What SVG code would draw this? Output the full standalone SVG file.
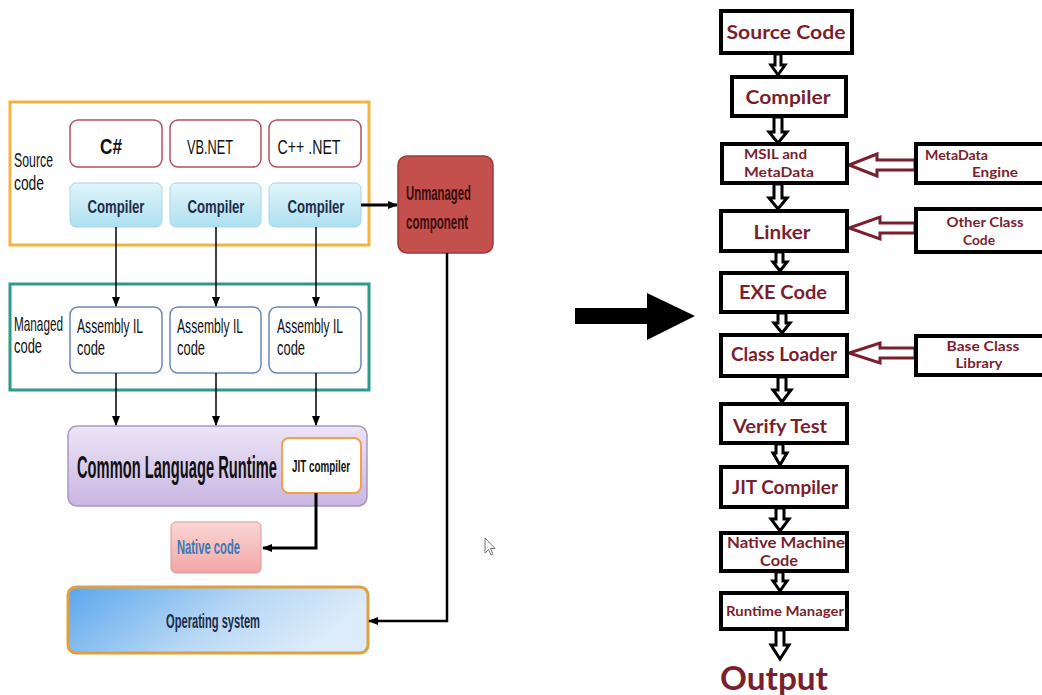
<svg xmlns="http://www.w3.org/2000/svg" width="1042" height="695" viewBox="0 0 1042 695">
<defs>
<linearGradient id="gBlue" x1="0" y1="0" x2="0" y2="1"><stop offset="0" stop-color="#e2f5fb"/><stop offset="1" stop-color="#ade0f0"/></linearGradient>
<linearGradient id="gLav" x1="0" y1="0" x2="0" y2="1"><stop offset="0" stop-color="#ece4f6"/><stop offset="1" stop-color="#c9b6e2"/></linearGradient>
<linearGradient id="gPink" x1="0" y1="0" x2="0" y2="1"><stop offset="0" stop-color="#fbd6d6"/><stop offset="1" stop-color="#f2a6a6"/></linearGradient>
<linearGradient id="gOS" x1="0" y1="0" x2="1" y2="0.3"><stop offset="0" stop-color="#5aa6ee"/><stop offset="0.6" stop-color="#b8d8f4"/><stop offset="1" stop-color="#dcecfa"/></linearGradient>
<marker id="ah" markerUnits="userSpaceOnUse" markerWidth="10" markerHeight="10" viewBox="0 0 10 10" refX="9" refY="5" orient="auto"><path d="M0,1 L10,5 L0,9 z" fill="#000"/></marker>
</defs>
<style>
.lt{font-family:"Liberation Sans",Arial,sans-serif;fill:#111}
.b{font-weight:bold}
.conn{stroke:#000;fill:none}
.rb{fill:#fff;stroke:#000;stroke-width:4}
.rt{font-family:Lato,"Open Sans",sans-serif;font-weight:bold;fill:#7b1f2e}
.va{fill:#fff;stroke:#000;stroke-width:3;stroke-linejoin:miter}
.ha{fill:#fff;stroke:#7b1f2e;stroke-width:3}
</style>
<rect width="1042" height="695" fill="#fff"/>

<!-- Left diagram -->
<g id="source-code">
<rect x="10" y="102" width="359" height="143" fill="none" stroke="#f2b441" stroke-width="3"/>
<text class="lt" x="14" y="167" font-size="20" textLength="39" lengthAdjust="spacingAndGlyphs">Source</text>
<text class="lt" x="14" y="190" font-size="20" textLength="30" lengthAdjust="spacingAndGlyphs">code</text>
</g>
<g id="csharp"><rect x="70" y="120" width="92" height="47" rx="8" fill="#fff" stroke="#b5505e" stroke-width="1.5"/><text class="lt b" x="111" y="154" font-size="22" text-anchor="middle" textLength="22" lengthAdjust="spacingAndGlyphs">C#</text></g>
<g id="vbnet"><rect x="170" y="120" width="91" height="47" rx="8" fill="#fff" stroke="#b5505e" stroke-width="1.5"/><text class="lt" x="210" y="154" font-size="21" text-anchor="middle" textLength="46" lengthAdjust="spacingAndGlyphs">VB.NET</text></g>
<g id="cppnet"><rect x="269" y="120" width="92" height="47" rx="8" fill="#fff" stroke="#b5505e" stroke-width="1.5"/><text class="lt" x="309" y="154" font-size="21" text-anchor="middle" textLength="63" lengthAdjust="spacingAndGlyphs">C++ .NET</text></g>
<g id="compiler1"><rect x="70" y="183" width="92" height="44" rx="6" fill="url(#gBlue)" stroke="#a6d6e6"/><text class="lt b" x="116" y="213" font-size="19" text-anchor="middle" textLength="57" lengthAdjust="spacingAndGlyphs" style="fill:#1c2d4a">Compiler</text></g>
<g id="compiler2"><rect x="170" y="183" width="91" height="44" rx="6" fill="url(#gBlue)" stroke="#a6d6e6"/><text class="lt b" x="216" y="213" font-size="19" text-anchor="middle" textLength="57" lengthAdjust="spacingAndGlyphs" style="fill:#1c2d4a">Compiler</text></g>
<g id="compiler3"><rect x="269" y="183" width="92" height="44" rx="6" fill="url(#gBlue)" stroke="#a6d6e6"/><text class="lt b" x="316" y="213" font-size="19" text-anchor="middle" textLength="57" lengthAdjust="spacingAndGlyphs" style="fill:#1c2d4a">Compiler</text></g>

<g id="unmanaged">
<rect x="398" y="156" width="95" height="97" rx="9" fill="#c4504d" stroke="#9c3a38" stroke-width="1.5"/>
<text class="lt b" x="406" y="200" font-size="21" textLength="65" lengthAdjust="spacingAndGlyphs" style="fill:#3a0c0c">Unmanaged</text>
<text class="lt b" x="406" y="229" font-size="21" textLength="62" lengthAdjust="spacingAndGlyphs" style="fill:#3a0c0c">component</text>
</g>

<g id="managed-code">
<rect x="10" y="284" width="359" height="106" fill="none" stroke="#2e9a8c" stroke-width="3"/>
<text class="lt" transform="translate(14,331) scale(0.588,1)" x="0" y="0" font-size="20">Managed</text>
<text class="lt" x="14" y="353" font-size="20" textLength="28" lengthAdjust="spacingAndGlyphs">code</text>
</g>
<g id="asm1"><rect x="70" y="307" width="92" height="66" rx="8" fill="#fff" stroke="#6c86b4" stroke-width="1.5"/><text class="lt" x="77" y="333" font-size="20" textLength="66" lengthAdjust="spacingAndGlyphs">Assembly IL</text><text class="lt" x="77" y="355" font-size="20" textLength="28" lengthAdjust="spacingAndGlyphs">code</text></g>
<g id="asm2"><rect x="170" y="307" width="91" height="66" rx="8" fill="#fff" stroke="#6c86b4" stroke-width="1.5"/><text class="lt" x="177" y="333" font-size="20" textLength="66" lengthAdjust="spacingAndGlyphs">Assembly IL</text><text class="lt" x="177" y="355" font-size="20" textLength="28" lengthAdjust="spacingAndGlyphs">code</text></g>
<g id="asm3"><rect x="269" y="307" width="92" height="66" rx="8" fill="#fff" stroke="#6c86b4" stroke-width="1.5"/><text class="lt" x="277" y="333" font-size="20" textLength="66" lengthAdjust="spacingAndGlyphs">Assembly IL</text><text class="lt" x="277" y="355" font-size="20" textLength="28" lengthAdjust="spacingAndGlyphs">code</text></g>

<g id="clr">
<rect x="68" y="426" width="299" height="80" rx="9" fill="url(#gLav)" stroke="#a898c0" stroke-width="1.5"/>
<text class="lt b" transform="translate(77,478) scale(0.474,1)" x="0" y="0" font-size="31">Common Language Runtime</text>
</g>
<g id="jit-left">
<rect x="282" y="438" width="79" height="55" rx="7" fill="#fff" stroke="#f0a24a" stroke-width="2"/>
<text class="lt b" transform="translate(321,472) scale(0.617,1)" x="0" y="0" font-size="16" text-anchor="middle">JIT compiler</text>
</g>
<g id="native-code">
<rect x="171" y="522" width="90" height="51" rx="5" fill="url(#gPink)" stroke="#d89a9a" stroke-width="1"/>
<text class="lt b" x="177" y="554" font-size="21" textLength="63" lengthAdjust="spacingAndGlyphs" style="fill:#3a78b4">Native code</text>
</g>
<g id="os">
<rect x="68" y="587" width="300" height="66" rx="8" fill="url(#gOS)" stroke="#e0a040" stroke-width="3"/>
<text class="lt b" x="213" y="628" font-size="20" text-anchor="middle" textLength="94" lengthAdjust="spacingAndGlyphs" style="fill:#1c2d4a">Operating system</text>
</g>

<g id="left-connectors">
<line class="conn" x1="116" y1="227" x2="116" y2="306" stroke-width="1.5" marker-end="url(#ah)"/>
<line class="conn" x1="216" y1="227" x2="216" y2="306" stroke-width="1.5" marker-end="url(#ah)"/>
<line class="conn" x1="316" y1="227" x2="316" y2="306" stroke-width="1.5" marker-end="url(#ah)"/>
<line class="conn" x1="116" y1="373" x2="116" y2="425" stroke-width="1.5" marker-end="url(#ah)"/>
<line class="conn" x1="216" y1="373" x2="216" y2="425" stroke-width="1.5" marker-end="url(#ah)"/>
<line class="conn" x1="316" y1="373" x2="316" y2="425" stroke-width="1.5" marker-end="url(#ah)"/>
<line class="conn" x1="361" y1="205" x2="397" y2="205" stroke-width="3" marker-end="url(#ah)"/>
<polyline class="conn" points="316,493 316,548 263,548" stroke-width="3" marker-end="url(#ah)"/>
<polyline class="conn" points="447,253 447,621 369,621" stroke-width="2.5" marker-end="url(#ah)"/>
</g>

<g id="cursor"><path d="M485,538 L485,553 L488.5,549.5 L491,555 L493,554 L490.5,548.5 L495,548.5 Z" fill="#fff" stroke="#777" stroke-width="1"/></g>

<g id="big-arrow"><polygon points="575,308 647,308 647,293 695,316 647,340 647,324 575,324" fill="#000"/></g>

<!-- Right flow chart -->
<g id="right-connectors">
<polygon class="va" points="775,54 781,54 781,65 785,65 778,75 771,65 775,65"/>
<polygon class="va" points="774,117 782,117 782,132 787,132 778,143 769,132 774,132"/>
<polygon class="va" points="774,184 782,184 782,198 787,198 778,209 769,198 774,198"/>
<polygon class="va" points="776,252 783,252 783,262 787,262 780,271 773,262 776,262"/>
<polygon class="va" points="778,313 786,313 786,323 790,323 782,333 774,323 778,323"/>
<polygon class="va" points="778,377 786,377 786,390 791,390 782,402 773,390 778,390"/>
<polygon class="va" points="776,444 783,444 783,453 787,453 780,465 773,453 776,453"/>
<polygon class="va" points="776,508 784,508 784,519 789,519 780,531 771,519 776,519"/>
<polygon class="va" points="776,572 783,572 783,581 787,581 780,591 773,581 776,581"/>
<polygon class="va" points="776,630 784,630 784,645 789,645 780,659 771,645 776,645"/>
<polygon class="ha" points="915,160 877,160 877,154 849,165 877,176 877,170 915,170"/>
<polygon class="ha" points="915,223 880,223 880,217 849,228 880,239 880,233 915,233"/>
<polygon class="ha" points="915,348 880,348 880,343 849,353 880,363 880,358 915,358"/>
</g>

<g id="r-source"><rect class="rb" x="721" y="11" width="131" height="42"/><text class="rt" x="786" y="39" font-size="19" text-anchor="middle" textLength="119" lengthAdjust="spacingAndGlyphs">Source Code</text></g>
<g id="r-compiler"><rect class="rb" x="732" y="77" width="114" height="39"/><text class="rt" x="788" y="104" font-size="19" text-anchor="middle" textLength="85" lengthAdjust="spacingAndGlyphs">Compiler</text></g>
<g id="r-msil"><rect class="rb" x="722" y="144" width="125" height="39"/><text class="rt" x="744" y="159" font-size="14" textLength="63" lengthAdjust="spacingAndGlyphs">MSIL and</text><text class="rt" x="744" y="177" font-size="14" textLength="70" lengthAdjust="spacingAndGlyphs">MetaData</text></g>
<g id="r-metadata-engine"><rect class="rb" x="916" y="144" width="130" height="39"/><text class="rt" x="925" y="160" font-size="13" textLength="63" lengthAdjust="spacingAndGlyphs">MetaData</text><text class="rt" x="972" y="177" font-size="13" textLength="46" lengthAdjust="spacingAndGlyphs">Engine</text></g>
<g id="r-linker"><rect class="rb" x="721" y="211" width="126" height="40"/><text class="rt" x="782" y="239" font-size="19" text-anchor="middle" textLength="57" lengthAdjust="spacingAndGlyphs">Linker</text></g>
<g id="r-other-class"><rect class="rb" x="916" y="209" width="130" height="43"/><text class="rt" x="985" y="227" font-size="14" text-anchor="middle" textLength="77" lengthAdjust="spacingAndGlyphs">Other Class</text><text class="rt" x="979" y="245" font-size="14" text-anchor="middle" textLength="32" lengthAdjust="spacingAndGlyphs">Code</text></g>
<g id="r-exe"><rect class="rb" x="721" y="273" width="126" height="39"/><text class="rt" x="783" y="299" font-size="19" text-anchor="middle" textLength="88" lengthAdjust="spacingAndGlyphs">EXE Code</text></g>
<g id="r-class-loader"><rect class="rb" x="721" y="335" width="126" height="41"/><text class="rt" x="784" y="361" font-size="18" text-anchor="middle" textLength="106" lengthAdjust="spacingAndGlyphs">Class Loader</text></g>
<g id="r-base-class"><rect class="rb" x="916" y="336" width="130" height="39"/><text class="rt" x="983" y="351" font-size="14" text-anchor="middle" textLength="73" lengthAdjust="spacingAndGlyphs">Base Class</text><text class="rt" x="979" y="368" font-size="14" text-anchor="middle" textLength="47" lengthAdjust="spacingAndGlyphs">Library</text></g>
<g id="r-verify"><rect class="rb" x="721" y="404" width="126" height="39"/><text class="rt" x="780" y="433" font-size="19" text-anchor="middle" textLength="94" lengthAdjust="spacingAndGlyphs">Verify Test</text></g>
<g id="r-jit"><rect class="rb" x="721" y="467" width="126" height="40"/><text class="rt" x="785" y="494" font-size="18" text-anchor="middle" textLength="106" lengthAdjust="spacingAndGlyphs">JIT Compiler</text></g>
<g id="r-native"><rect class="rb" x="721" y="533" width="126" height="38"/><text class="rt" x="786" y="548" font-size="15" text-anchor="middle" textLength="118" lengthAdjust="spacingAndGlyphs">Native Machine</text><text class="rt" x="779" y="566" font-size="15" text-anchor="middle" textLength="38" lengthAdjust="spacingAndGlyphs">Code</text></g>
<g id="r-runtime"><rect class="rb" x="721" y="593" width="126" height="36"/><text class="rt" x="785" y="616" font-size="13" text-anchor="middle" textLength="118" lengthAdjust="spacingAndGlyphs">Runtime Manager</text></g>
<g id="r-output"><text class="rt" x="720" y="690" font-size="32" textLength="108" lengthAdjust="spacingAndGlyphs">Output</text></g>
</svg>
